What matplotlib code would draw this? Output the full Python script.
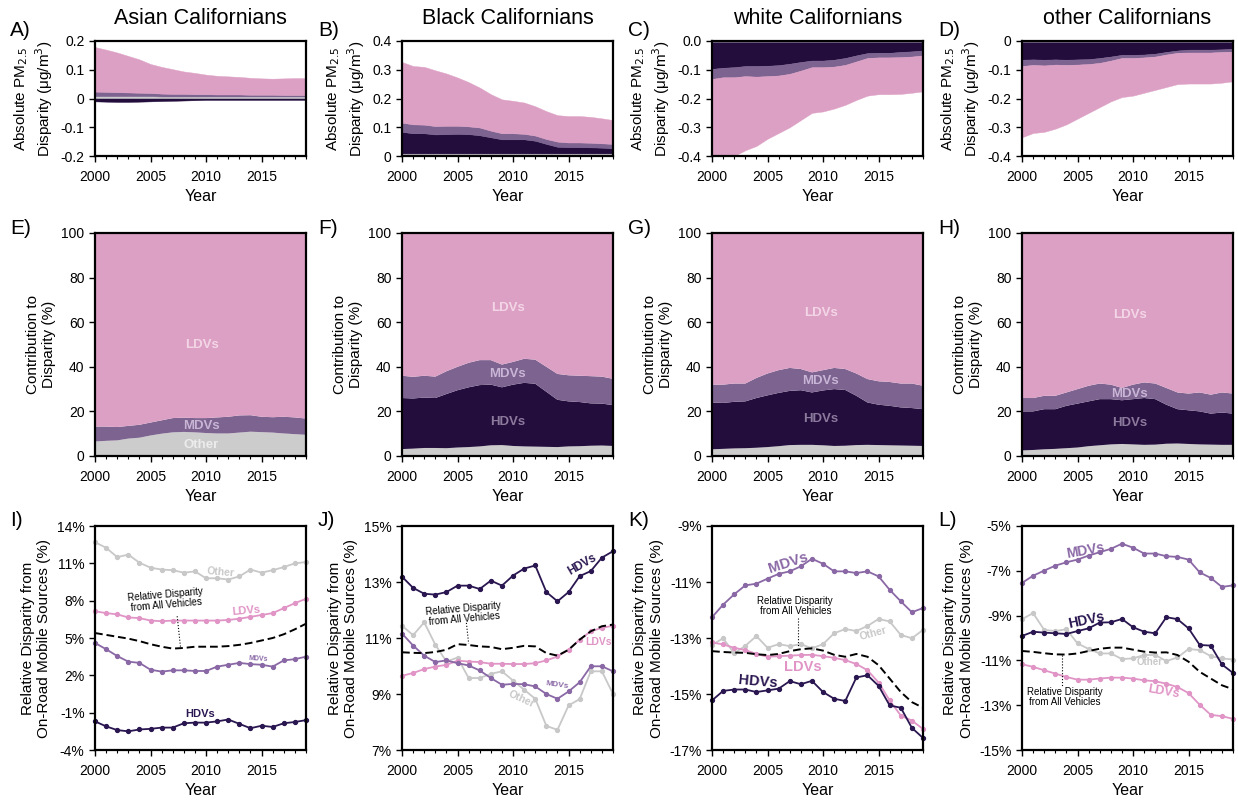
import numpy as np
import matplotlib
matplotlib.use("Agg")
import matplotlib.pyplot as plt
from matplotlib.ticker import MultipleLocator

plt.rcParams["font.family"] = ["Liberation Sans", "DejaVu Sans"]

years = list(range(2000, 2020))
groups = ["Asian Californians", "Black Californians", "white Californians", "other Californians"]

# --- absolute PM2.5 disparity (ug/m3), per source ---
abs_other_asian = [0.008, 0.008, 0.008, 0.008, 0.008, 0.008, 0.007, 0.007, 0.007, 0.007, 0.007, 0.007, 0.007, 0.007, 0.007, 0.007, 0.007, 0.007, 0.007, 0.007]
abs_hdv_asian = [-0.010, -0.011, -0.012, -0.012, -0.011, -0.010, -0.009, -0.008, -0.007, -0.006, -0.005, -0.005, -0.005, -0.005, -0.005, -0.005, -0.005, -0.005, -0.005, -0.005]
abs_mdv_asian = [0.016, 0.015, 0.014, 0.013, 0.012, 0.011, 0.010, 0.009, 0.009, 0.008, 0.008, 0.007, 0.007, 0.007, 0.006, 0.006, 0.006, 0.005, 0.005, 0.005]
abs_ldv_asian = [0.155, 0.147, 0.138, 0.127, 0.116, 0.101, 0.093, 0.086, 0.078, 0.074, 0.068, 0.065, 0.063, 0.061, 0.059, 0.057, 0.056, 0.058, 0.059, 0.059]

abs_other_black = [0.009, 0.009, 0.009, 0.009, 0.009, 0.009, 0.009, 0.009, 0.009, 0.009, 0.009, 0.009, 0.009, 0.009, 0.009, 0.009, 0.009, 0.009, 0.009, 0.009]
abs_hdv_black = [0.075, 0.070, 0.070, 0.066, 0.067, 0.068, 0.067, 0.063, 0.056, 0.049, 0.049, 0.049, 0.044, 0.033, 0.023, 0.022, 0.022, 0.021, 0.020, 0.018]
abs_mdv_black = [0.032, 0.031, 0.030, 0.029, 0.029, 0.028, 0.027, 0.027, 0.023, 0.021, 0.021, 0.019, 0.018, 0.017, 0.018, 0.016, 0.016, 0.016, 0.015, 0.015]
abs_ldv_black = [0.211, 0.203, 0.201, 0.194, 0.182, 0.168, 0.154, 0.139, 0.127, 0.118, 0.113, 0.109, 0.102, 0.097, 0.092, 0.092, 0.092, 0.090, 0.087, 0.083]

abs_other_white = [-0.004, -0.004, -0.004, -0.004, -0.004, -0.004, -0.004, -0.004, -0.004, -0.004, -0.004, -0.004, -0.004, -0.004, -0.004, -0.004, -0.004, -0.004, -0.004, -0.004]
abs_hdv_white = [-0.093, -0.089, -0.087, -0.083, -0.083, -0.082, -0.080, -0.075, -0.069, -0.064, -0.064, -0.061, -0.055, -0.046, -0.038, -0.037, -0.037, -0.034, -0.032, -0.029]
abs_mdv_white = [-0.035, -0.033, -0.035, -0.035, -0.037, -0.036, -0.036, -0.035, -0.030, -0.023, -0.023, -0.024, -0.024, -0.021, -0.017, -0.016, -0.016, -0.018, -0.018, -0.017]
abs_ldv_white = [-0.298, -0.289, -0.274, -0.258, -0.241, -0.218, -0.200, -0.186, -0.172, -0.159, -0.154, -0.146, -0.139, -0.134, -0.131, -0.128, -0.128, -0.128, -0.126, -0.125]

abs_other_other = [-0.004, -0.004, -0.004, -0.004, -0.004, -0.004, -0.004, -0.004, -0.004, -0.004, -0.004, -0.004, -0.004, -0.004, -0.004, -0.004, -0.004, -0.004, -0.004, -0.004]
abs_hdv_other = [-0.061, -0.060, -0.061, -0.060, -0.061, -0.060, -0.059, -0.055, -0.050, -0.044, -0.044, -0.043, -0.040, -0.034, -0.029, -0.026, -0.026, -0.026, -0.025, -0.023]
abs_mdv_other = [-0.022, -0.019, -0.020, -0.018, -0.018, -0.018, -0.017, -0.017, -0.014, -0.011, -0.011, -0.010, -0.010, -0.009, -0.008, -0.010, -0.010, -0.010, -0.009, -0.010]
abs_ldv_other = [-0.248, -0.237, -0.231, -0.223, -0.207, -0.188, -0.170, -0.154, -0.142, -0.136, -0.131, -0.123, -0.116, -0.113, -0.109, -0.108, -0.108, -0.108, -0.107, -0.103]

# --- contribution to disparity (%) ---
pct_other_asian = [6.5, 6.8, 7.0, 7.8, 8.2, 9.2, 10.0, 10.6, 10.8, 10.6, 10.3, 10.1, 10.1, 10.5, 10.9, 10.7, 10.5, 10.1, 9.8, 9.5]
pct_hdv_asian = [0, 0, 0, 0, 0, 0, 0, 0, 0, 0, 0, 0, 0, 0, 0, 0, 0, 0, 0, 0]
pct_mdv_asian = [6.7, 6.4, 6.0, 5.7, 5.8, 5.8, 6.0, 6.4, 6.4, 6.4, 6.7, 7.2, 7.5, 7.7, 7.4, 6.9, 6.9, 7.5, 7.5, 7.3]
pct_ldv_asian = [86.8, 86.8, 87.0, 86.5, 86.0, 85.0, 84.0, 83.0, 82.8, 83.0, 83.0, 82.7, 82.4, 81.8, 81.7, 82.4, 82.6, 82.4, 82.7, 83.2]

pct_other_black = [3.1, 3.3, 3.6, 3.6, 3.5, 3.8, 4.0, 4.3, 4.8, 4.9, 4.5, 4.3, 4.2, 4.1, 4.0, 4.3, 4.4, 4.6, 4.7, 4.5]
pct_hdv_black = [22.9, 22.5, 22.6, 22.4, 24.3, 25.7, 26.8, 27.5, 27.2, 25.9, 27.5, 28.5, 28.2, 24.7, 21.2, 20.2, 19.8, 19.0, 18.8, 18.3]
pct_mdv_black = [10.0, 9.7, 9.8, 9.6, 10.2, 10.5, 11.0, 11.2, 11.0, 10.2, 10.2, 10.8, 10.8, 11.2, 11.6, 11.7, 11.8, 12.2, 12.1, 11.8]
pct_ldv_black = [64.0, 64.5, 64.0, 64.4, 62.0, 60.0, 58.2, 57.0, 57.0, 59.0, 57.8, 56.4, 56.8, 60.0, 63.2, 63.8, 64.0, 64.2, 64.4, 65.4]

pct_other_white = [3.0, 3.2, 3.4, 3.5, 3.7, 4.0, 4.4, 4.9, 5.0, 5.0, 4.8, 4.5, 4.6, 4.9, 5.0, 4.9, 4.8, 4.7, 4.6, 4.5]
pct_hdv_white = [21.0, 20.6, 20.9, 21.0, 22.3, 23.2, 23.9, 24.3, 24.5, 23.5, 24.6, 25.5, 25.0, 22.1, 19.0, 18.1, 17.7, 17.1, 16.9, 16.5]
pct_mdv_white = [8.0, 8.2, 8.2, 8.0, 9.0, 9.8, 10.2, 10.3, 9.5, 9.0, 9.1, 9.5, 9.4, 10.0, 10.5, 10.5, 10.7, 10.7, 11.0, 10.5]
pct_ldv_white = [68.0, 68.0, 67.5, 67.5, 65.0, 63.0, 61.5, 60.5, 61.0, 62.5, 61.5, 60.5, 61.0, 63.0, 65.5, 66.5, 66.8, 67.5, 67.5, 68.5]

pct_other_other = [2.5, 2.7, 3.0, 3.2, 3.5, 3.8, 4.4, 4.8, 5.2, 5.4, 5.2, 5.0, 5.1, 5.5, 5.6, 5.4, 5.2, 5.1, 5.0, 5.0]
pct_hdv_other = [17.5, 17.3, 18.0, 17.8, 19.0, 19.7, 20.1, 20.7, 20.3, 19.6, 20.3, 21.0, 20.4, 17.5, 15.4, 15.1, 14.8, 13.9, 14.5, 14.0]
pct_mdv_other = [6.0, 6.0, 6.0, 6.0, 6.0, 6.5, 7.0, 7.0, 6.5, 5.5, 6.5, 7.0, 7.0, 7.5, 7.5, 7.5, 8.5, 8.5, 9.0, 9.0]
pct_ldv_other = [74.0, 74.0, 73.0, 73.0, 71.5, 70.0, 68.5, 67.5, 68.0, 69.5, 68.0, 67.0, 67.5, 69.5, 71.5, 72.0, 71.5, 72.5, 71.5, 72.0]

# --- relative disparity (%) ---
rel_other_asian = [12.7, 12.25, 11.5, 11.7, 11.05, 10.65, 10.5, 10.45, 10.25, 10.35, 9.8, 9.8, 9.7, 9.95, 10.5, 10.25, 10.45, 10.7, 11.0, 11.1]
rel_ldv_asian = [7.15, 7.0, 6.9, 6.65, 6.6, 6.4, 6.35, 6.4, 6.4, 6.4, 6.4, 6.4, 6.45, 6.55, 6.7, 6.85, 7.0, 7.4, 7.8, 8.15]
rel_mdv_asian = [4.6, 4.1, 3.55, 3.1, 3.0, 2.45, 2.3, 2.4, 2.4, 2.35, 2.35, 2.7, 2.85, 3.0, 2.9, 2.85, 2.7, 3.2, 3.3, 3.5]
rel_hdv_asian = [-1.7, -2.1, -2.4, -2.5, -2.35, -2.3, -2.2, -2.2, -1.85, -1.8, -1.8, -1.7, -1.55, -1.9, -2.25, -2.05, -2.15, -1.85, -1.75, -1.6]
rel_all_asian = [5.4, 5.25, 5.1, 4.95, 4.75, 4.5, 4.3, 4.15, 4.2, 4.3, 4.3, 4.3, 4.35, 4.45, 4.6, 4.8, 5.0, 5.3, 5.7, 6.15]

rel_other_black = [11.44, 11.1, 11.56, 10.76, 10.16, 10.3, 9.57, 9.57, 9.72, 9.81, 9.48, 9.15, 8.83, 7.86, 7.72, 8.59, 8.82, 9.81, 9.81, 9.0]
rel_ldv_black = [9.65, 9.75, 9.89, 9.98, 10.04, 10.19, 10.16, 10.14, 10.08, 10.08, 10.07, 10.07, 10.1, 10.2, 10.34, 10.58, 10.94, 11.24, 11.36, 11.44]
rel_mdv_black = [11.16, 10.73, 10.37, 10.14, 10.2, 10.1, 10.02, 9.84, 9.57, 9.33, 9.36, 9.35, 9.27, 9.0, 8.83, 9.09, 9.42, 9.99, 9.99, 9.81]
rel_hdv_black = [13.19, 12.79, 12.58, 12.55, 12.64, 12.87, 12.87, 12.75, 13.05, 12.87, 13.23, 13.48, 13.59, 12.64, 12.31, 12.64, 13.21, 13.39, 13.87, 14.1]
rel_all_black = [10.49, 10.47, 10.46, 10.5, 10.58, 10.78, 10.75, 10.7, 10.68, 10.6, 10.65, 10.72, 10.7, 10.46, 10.37, 10.58, 10.94, 11.24, 11.42, 11.48]

rel_other_white = [-13.25, -13.01, -13.55, -13.28, -12.93, -13.35, -13.22, -13.29, -13.22, -13.37, -13.22, -12.83, -12.68, -12.75, -12.57, -12.32, -12.41, -12.89, -13.01, -12.71]
rel_ldv_white = [-13.16, -13.23, -13.35, -13.43, -13.57, -13.67, -13.65, -13.63, -13.61, -13.6, -13.65, -13.71, -13.79, -13.93, -14.15, -14.59, -15.23, -15.77, -15.95, -16.25]
rel_mdv_white = [-12.26, -11.81, -11.44, -11.12, -11.06, -10.88, -10.71, -10.62, -10.44, -10.17, -10.35, -10.62, -10.62, -10.68, -10.62, -10.8, -11.28, -11.69, -12.08, -11.93]
rel_hdv_white = [-15.23, -14.89, -14.84, -14.84, -14.93, -14.87, -14.81, -14.54, -14.65, -14.53, -14.93, -15.17, -15.25, -14.41, -14.33, -14.71, -15.41, -15.49, -16.21, -16.57]
rel_all_white = [-13.47, -13.5, -13.52, -13.53, -13.58, -13.61, -13.57, -13.47, -13.4, -13.37, -13.45, -13.6, -13.67, -13.57, -13.67, -13.97, -14.45, -14.93, -15.29, -15.49]

rel_other_other = [-9.16, -8.89, -9.64, -9.69, -9.61, -10.24, -10.49, -10.69, -10.69, -10.94, -10.91, -10.76, -10.76, -11.03, -10.87, -10.49, -10.54, -10.81, -10.91, -10.96]
rel_ldv_other = [-11.17, -11.29, -11.44, -11.59, -11.74, -11.86, -11.86, -11.81, -11.77, -11.77, -11.81, -11.89, -11.93, -12.04, -12.19, -12.46, -12.98, -13.43, -13.49, -13.61]
rel_mdv_other = [-7.54, -7.22, -6.99, -6.77, -6.62, -6.5, -6.32, -6.17, -6.02, -5.79, -5.97, -6.23, -6.23, -6.35, -6.38, -6.5, -7.07, -7.32, -7.72, -7.65]
rel_hdv_other = [-9.91, -9.72, -9.76, -9.79, -9.82, -9.69, -9.57, -9.31, -9.3, -9.15, -9.52, -9.72, -9.79, -9.07, -9.16, -9.57, -10.31, -10.34, -11.18, -11.56]
rel_all_other = [-10.58, -10.62, -10.68, -10.73, -10.74, -10.69, -10.58, -10.48, -10.43, -10.43, -10.52, -10.61, -10.65, -10.64, -10.76, -11.06, -11.51, -11.81, -12.11, -12.29]

# colours
C_OTHER, C_HDV, C_MDV, C_LDV = "#cccccc", "#230d3d", "#7d6390", "#dda0c5"
L_OTHER, L_HDV, L_MDV, L_LDV = "#c8c8c8", "#2a1650", "#8a68a6", "#e095c6"

abs_data = [
    [abs_other_asian, abs_hdv_asian, abs_mdv_asian, abs_ldv_asian],
    [abs_other_black, abs_hdv_black, abs_mdv_black, abs_ldv_black],
    [abs_other_white, abs_hdv_white, abs_mdv_white, abs_ldv_white],
    [abs_other_other, abs_hdv_other, abs_mdv_other, abs_ldv_other],
]
pct_data = [
    [pct_other_asian, pct_hdv_asian, pct_mdv_asian, pct_ldv_asian],
    [pct_other_black, pct_hdv_black, pct_mdv_black, pct_ldv_black],
    [pct_other_white, pct_hdv_white, pct_mdv_white, pct_ldv_white],
    [pct_other_other, pct_hdv_other, pct_mdv_other, pct_ldv_other],
]
rel_data = [
    [rel_other_asian, rel_ldv_asian, rel_mdv_asian, rel_hdv_asian, rel_all_asian],
    [rel_other_black, rel_ldv_black, rel_mdv_black, rel_hdv_black, rel_all_black],
    [rel_other_white, rel_ldv_white, rel_mdv_white, rel_hdv_white, rel_all_white],
    [rel_other_other, rel_ldv_other, rel_mdv_other, rel_hdv_other, rel_all_other],
]

abs_lims = [(-0.2, 0.2), (0, 0.4), (-0.4, 0), (-0.4, 0)]
abs_ticklabels = [["-0.2", "-0.1", "0", "0.1", "0.2"],
                  ["0", "0.1", "0.2", "0.3", "0.4"],
                  ["-0.4", "-0.3", "-0.2", "-0.1", "0.0"],
                  ["-0.4", "-0.3", "-0.2", "-0.1", "0"]]
rel_ticks = [[-4, -1, 2, 5, 8, 11, 14], [7, 9, 11, 13, 15],
             [-17, -15, -13, -11, -9], [-15, -13, -11, -9, -7, -5]]

# text labels on the area panels: (text, x, y, colour)
pct_labels = [
    [("LDVs", 2009.6, 49.7, "#f3d6e6"), ("MDVs", 2009.6, 13.4, "#c9b6d6"), ("Other", 2009.6, 5.0, "#ececec")],
    [("LDVs", 2009.5, 66.4, "#f3d6e6"), ("MDVs", 2009.5, 36.6, "#c9b6d6"), ("HDVs", 2009.5, 15.4, "#8c7a9c")],
    [("LDVs", 2009.8, 64.0, "#f3d6e6"), ("MDVs", 2009.8, 33.7, "#c9b6d6"), ("HDVs", 2009.8, 16.4, "#8c7a9c")],
    [("LDVs", 2009.7, 63.4, "#f3d6e6"), ("MDVs", 2009.7, 28.0, "#c9b6d6"), ("HDVs", 2009.7, 14.6, "#8c7a9c")],
]

# series labels on line panels: (text, x, y, colour, size, rotation)
rel_labels = [
    [("Other", 2011.3, 10.3, L_OTHER, 7.5, -5), ("LDVs", 2013.6, 7.2, L_LDV, 8, 5),
     ("MDVs", 2014.7, 3.3, L_MDV, 5, -3), ("HDVs", 2009.5, -1.1, L_HDV, 8, 0)],
    [("HDVs", 2016.2, 13.63, L_HDV, 8.5, 30), ("LDVs", 2017.7, 10.85, L_LDV, 7.5, 0),
     ("MDVs", 2014.0, 9.3, L_MDV, 6, -8), ("Other", 2010.75, 8.8, L_OTHER, 7.5, -25)],
    [("MDVs", 2006.85, -10.3, L_MDV, 10.5, 18), ("Other", 2014.5, -12.83, L_OTHER, 7.5, 15),
     ("LDVs", 2008.2, -14.03, L_LDV, 10.5, 0), ("HDVs", 2004.15, -14.57, L_HDV, 10.5, -5)],
    [("MDVs", 2005.75, -6.12, L_MDV, 10, 10), ("HDVs", 2005.75, -9.19, L_HDV, 10, 12),
     ("Other", 2011.5, -11.06, L_OTHER, 7, 0), ("LDVs", 2012.7, -12.41, L_LDV, 9, -10)],
]
# "all vehicles" note: text position, rotation, leader line (x0, y0, x1, y1)
all_notes = [
    (2006.4, 8.1, 5, (2007.4, 6.75, 2007.7, 4.27)),
    (2005.55, 11.87, 5, (2005.8, 11.54, 2006.0, 10.8)),
    (2007.5, -11.85, 0, (2007.75, -12.3, 2007.75, -13.3)),
    (2003.85, -12.63, 0, (2003.6, -10.76, 2003.6, -12.2)),
]

W, H = 1238, 801
fig = plt.figure(figsize=(W / 100, H / 100), dpi=100)
col_left = [95, 402, 712, 1022]
ax_w = 211
rows = [(41, 156), (233, 456), (526, 750)]
letters = "ABCDEFGHIJKL"
letter_x = [10, 318, 628, 938]
letter_y = [30, 228, 520]


def make_ax(col, row):
    top, bot = rows[row]
    ax = fig.add_axes([col_left[col] / W, 1 - bot / H, ax_w / W, (bot - top) / H])
    ax.set_xlim(2000, 2019)
    ax.xaxis.set_major_locator(MultipleLocator(5))
    ax.xaxis.set_minor_locator(MultipleLocator(1))
    ax.tick_params(direction="out", labelsize=10, length=4, width=1)
    ax.tick_params(axis="x", pad=6)
    ax.tick_params(which="minor", direction="out", length=2.5, width=0.8)
    for s in ax.spines.values():
        s.set_linewidth(1.6)
    ax.set_xlabel("Year", fontsize=11.5, labelpad=4)
    fig.text(letter_x[col] / W, 1 - letter_y[row] / H, letters[row * 4 + col] + ")",
             fontsize=15, ha="left", va="center")
    return ax


for i, g in enumerate(groups):
    # top row: signed stacked area
    ax = make_ax(i, 0)
    pos = np.zeros(len(years))
    neg = np.zeros(len(years))
    for vals, col in zip(abs_data[i], [C_OTHER, C_HDV, C_MDV, C_LDV]):
        v = np.array(vals)
        p = np.clip(v, 0, None)
        n = np.clip(v, None, 0)
        if p.any():
            ax.fill_between(years, pos, pos + p, color=col, lw=0.3)
            pos = pos + p
        if n.any():
            ax.fill_between(years, neg, neg + n, color=col, lw=0.3)
            neg = neg + n
    lo, hi = abs_lims[i]
    ax.set_ylim(lo, hi)
    ticks = np.linspace(lo, hi, 5)
    ax.set_yticks(ticks)
    ax.set_yticklabels(abs_ticklabels[i])
    ax.set_ylabel("Absolute PM$_{2.5}$\nDisparity (μg/m$^3$)", fontsize=11, labelpad=4)
    fig.text((col_left[i] + ax_w / 2) / W, 1 - 18 / H, g, fontsize=15.5, ha="center", va="center")

    # middle row: contribution stack
    ax = make_ax(i, 1)
    ax.stackplot(years, *pct_data[i], colors=[C_OTHER, C_HDV, C_MDV, C_LDV], lw=0.3)
    ax.set_ylim(0, 100)
    ax.set_yticks([0, 20, 40, 60, 80, 100])
    ax.set_ylabel("Contribution to\nDisparity (%)", fontsize=11, labelpad=4)
    for txt, x, y, c in pct_labels[i]:
        ax.text(x, y, txt, color=c, fontsize=9.5, fontweight="bold", ha="center", va="center")

    # bottom row: relative disparity lines
    ax = make_ax(i, 2)
    oth, ldv, mdv, hdv, allv = rel_data[i]
    for vals, col in [(oth, L_OTHER), (ldv, L_LDV), (mdv, L_MDV), (hdv, L_HDV)]:
        ax.plot(years, vals, color=col, lw=1.3, marker="o", ms=2.8, clip_on=False)
    ax.plot(years, allv, color="black", lw=1.4, ls=(0, (4, 2)))
    t = rel_ticks[i]
    ax.set_ylim(t[0], t[-1])
    ax.set_yticks(t)
    ax.set_yticklabels([f"{v}%" for v in t])
    ax.set_ylabel("Relative Disparity from\nOn-Road Mobile Sources (%)", fontsize=11, labelpad=4)
    for txt, x, y, c, fs, rot in rel_labels[i]:
        ax.text(x, y, txt, color=c, fontsize=fs, fontweight="bold", rotation=rot,
                ha="center", va="center")
    tx, ty, trot, (x0, y0, x1, y1) = all_notes[i]
    ax.text(tx, ty, "Relative Disparity\nfrom All Vehicles", fontsize=7, rotation=trot,
            ha="center", va="center", linespacing=1.0)
    ax.plot([x0, x1], [y0, y1], color="black", lw=0.8, ls=":")

fig.savefig("out.png", dpi=100)
